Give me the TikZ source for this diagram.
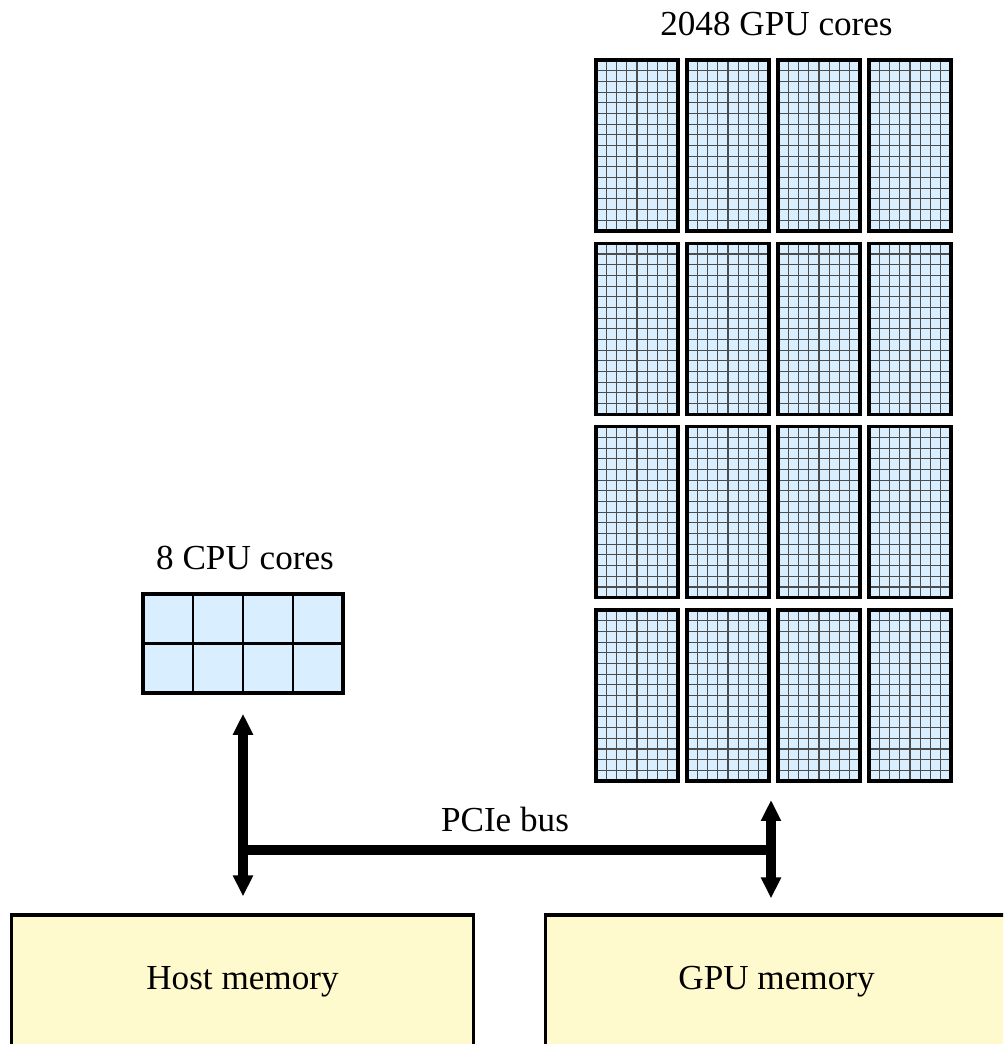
\documentclass[tikz,border=0pt]{standalone}
\usepackage{fontspec}
\setmainfont{Liberation Serif}
\usetikzlibrary{positioning,arrows.meta}

\definecolor{coreblue}{RGB}{217,239,255}
\definecolor{memyellow}{RGB}{255,250,205}

\begin{document}
\begin{tikzpicture}[
    core/.style={draw=black, fill=coreblue, line width=2pt, inner sep=0pt},
    gpucore/.style={core, minimum width=1.64cm, minimum height=3.42cm,
      path picture={
        \foreach \i in {1,...,7}
          \draw[gridline] ({-0.82+\i*0.205},-1.8) -- ++(0,3.6);
        \foreach \j in {1,...,15}
          \draw[gridline] (-0.9,{-1.71+\j*0.21375}) -- ++(1.8,0);
      }},
    cpucore/.style={core, minimum width=4cm, minimum height=1.98cm,
      path picture={
        \foreach \i in {-1,0,1}
          \draw[line width=1.4pt] (\i,-1.1) -- ++(0,2.2);
        \draw[line width=1.4pt] (-2.1,0) -- (2.1,0);
      }},
    gridline/.style={draw=black!70, line width=0.6pt},
    mem/.style={draw=black, fill=memyellow, line width=1.8pt,
      minimum width=9.24cm, minimum height=2.68cm, font=\fontsize{20}{24}\selectfont},
    lbl/.style={font=\fontsize{20}{24}\selectfont, inner sep=0pt, anchor=base},
    bus/.style={line width=0.19cm},
    busarrow/.style={bus, {Triangle[width=0.38cm,length=0.42cm]}-{Triangle[width=0.38cm,length=0.42cm]}}
]

  % Picture size
  \useasboundingbox (0,0) rectangle (20.06,20.88);
  \clip (0,0) rectangle (20.06,20.88);

  % Layout of the GPU blocks
  \def\gpuX{12.74}    % centre of first column
  \def\gpuY{17.97}    % centre of first row
  \def\colSep{1.82}   % horizontal step
  \def\rowSep{3.667}  % vertical step

  % GPU cores: 16 blocks of 8x16
  \foreach \r in {0,...,3}{
    \foreach \c in {0,...,3}{
      \node[gpucore] (gpu-\r-\c) at ({\gpuX+\c*\colSep},{\gpuY-\r*\rowSep}) {};
    }
  }
  \node[lbl] (gpulbl) at (15.53,20.16) {2048 GPU cores};

  % CPU cores
  \node[cpucore] (cpu) at (4.86,8.01) {};
  \node[lbl] (cpulbl) at (4.9,9.48) {8 CPU cores};

  % Memories
  \node[mem] (host) at (4.85,1.24) {Host memory};
  \node[mem] (gpumem) at (15.53,1.24) {GPU memory};

  % PCIe bus
  \coordinate (gpuBot) at (15.42,5.28);
  \coordinate (busR) at (15.42,3.88);
  \draw[busarrow, shorten <=0.38cm, shorten >=0.34cm] (cpu.south) -- (cpu.south |- host.north);
  \draw[busarrow, shorten <=0.4cm, shorten >=0.3cm] (gpuBot) -- (gpuBot |- gpumem.north);
  \draw[bus] (cpu.south |- busR) -- (busR);
  \node[lbl] (buslbl) at (10.1,4.24) {PCIe bus};

\end{tikzpicture}
\end{document}
